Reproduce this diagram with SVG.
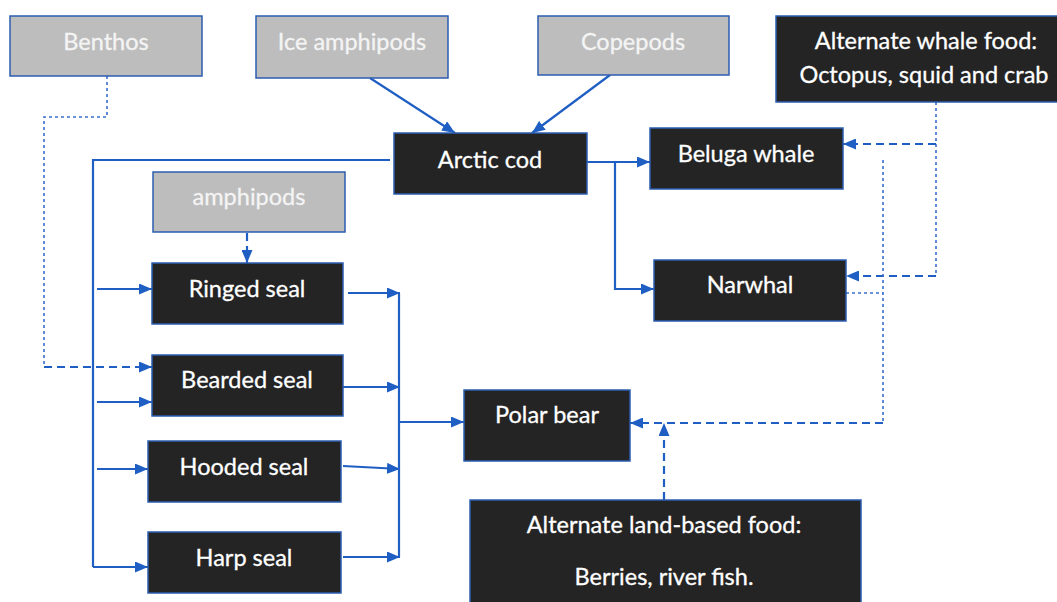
<svg xmlns="http://www.w3.org/2000/svg" width="1057" height="602" viewBox="0 0 1057 602">
<style>
.dark{fill:#242424;stroke:#2c5db0;stroke-width:1.5}
.gray{fill:#bdbdbd;stroke:#2c5db0;stroke-width:1.5}
.t{font-family:Lato,"Open Sans",sans-serif;font-size:23.5px;fill:#ffffff;text-anchor:middle;stroke:#ffffff;stroke-width:0.3}
.tg{font-family:Lato,"Open Sans",sans-serif;font-size:23.5px;fill:#f4f4f4;text-anchor:middle;stroke:#f4f4f4;stroke-width:0.3}
.s{fill:none;stroke:#1f5fc4;stroke-width:2.2}
.d{fill:none;stroke:#1f5fc4;stroke-width:2.2;stroke-dasharray:8 5}
.o{fill:none;stroke:#3a6fd0;stroke-width:1.6;stroke-dasharray:3 3}
</style>
<defs>
<marker id="ah" viewBox="0 0 13 11" refX="13" refY="5.5" markerWidth="13" markerHeight="11" markerUnits="userSpaceOnUse" orient="auto">
<path d="M0,0 L13,5.5 L0,11 z" fill="#1f5fc4"/>
</marker>
</defs>
<rect width="1057" height="602" fill="#ffffff"/>
<g id="connectors">
<path class="s" d="M370,78 L455,133" marker-end="url(#ah)"/>
<path class="s" d="M610,75 L532,133" marker-end="url(#ah)"/>
<path class="s" d="M587,162 H650" marker-end="url(#ah)"/>
<path class="s" d="M615,162 V289 H654" marker-end="url(#ah)"/>
<path class="s" d="M390,160 H93 V567"/>
<path class="s" d="M97,289 H152" marker-end="url(#ah)"/>
<path class="s" d="M97,402 H152" marker-end="url(#ah)"/>
<path class="s" d="M97,469 H148" marker-end="url(#ah)"/>
<path class="s" d="M93,567 H148" marker-end="url(#ah)"/>
<path class="s" d="M348,293 H400" marker-end="url(#ah)"/>
<path class="s" d="M343,387 H400" marker-end="url(#ah)"/>
<path class="s" d="M343,466 L400,469" marker-end="url(#ah)"/>
<path class="s" d="M343,557 H400" marker-end="url(#ah)"/>
<path class="s" d="M399,293 V557"/>
<path class="s" d="M399,422 H464" marker-end="url(#ah)"/>
<path class="d" d="M247,233 V263" marker-end="url(#ah)"/>
<path class="o" d="M107,76 V117 H44 V367"/>
<path class="d" d="M44,367 H152" marker-end="url(#ah)"/>
<path class="o" d="M936,102 V276"/>
<path class="d" d="M936,144 H843" marker-end="url(#ah)"/>
<path class="d" d="M936,276 H846" marker-end="url(#ah)"/>
<path class="o" d="M846,293 H883"/>
<path class="o" d="M883,160 V423"/>
<path class="d" d="M883,423 H630" marker-end="url(#ah)"/>
<path class="d" d="M664,500 V423" marker-end="url(#ah)"/>
</g>
<g id="benthos"><rect class="gray" x="10" y="16" width="192" height="60"/><text class="tg" x="106" y="50">Benthos</text></g>
<g id="ice-amphipods"><rect class="gray" x="256" y="16" width="192" height="62"/><text class="tg" x="352" y="50">Ice amphipods</text></g>
<g id="copepods"><rect class="gray" x="538" y="16" width="191" height="59"/><text class="tg" x="633" y="50">Copepods</text></g>
<g id="whale-food"><rect class="dark" x="776" y="16" width="290" height="86"/><text class="t" x="926" y="49">Alternate whale food:</text><text class="t" x="924" y="83">Octopus, squid and crab</text></g>
<g id="arctic-cod"><rect class="dark" x="394" y="133" width="193" height="61"/><text class="t" x="490" y="168">Arctic cod</text></g>
<g id="beluga"><rect class="dark" x="650" y="128" width="193" height="61"/><text class="t" x="746" y="162">Beluga whale</text></g>
<g id="narwhal"><rect class="dark" x="654" y="260" width="192" height="61"/><text class="t" x="750" y="293">Narwhal</text></g>
<g id="amphipods"><rect class="gray" x="153" y="172" width="192" height="60"/><text class="tg" x="249" y="205">amphipods</text></g>
<g id="ringed-seal"><rect class="dark" x="152" y="263" width="191" height="61"/><text class="t" x="247" y="297">Ringed seal</text></g>
<g id="bearded-seal"><rect class="dark" x="152" y="355" width="191" height="61"/><text class="t" x="247" y="388">Bearded seal</text></g>
<g id="hooded-seal"><rect class="dark" x="148" y="441" width="193" height="61"/><text class="t" x="244" y="475">Hooded seal</text></g>
<g id="harp-seal"><rect class="dark" x="148" y="532" width="193" height="61"/><text class="t" x="244" y="566">Harp seal</text></g>
<g id="polar-bear"><rect class="dark" x="464" y="390" width="166" height="71"/><text class="t" x="547" y="423">Polar bear</text></g>
<g id="land-food"><rect class="dark" x="470" y="500" width="391" height="110"/><text class="t" x="664" y="533">Alternate land-based food:</text><text class="t" x="664" y="585">Berries, river fish.</text></g>
</svg>
